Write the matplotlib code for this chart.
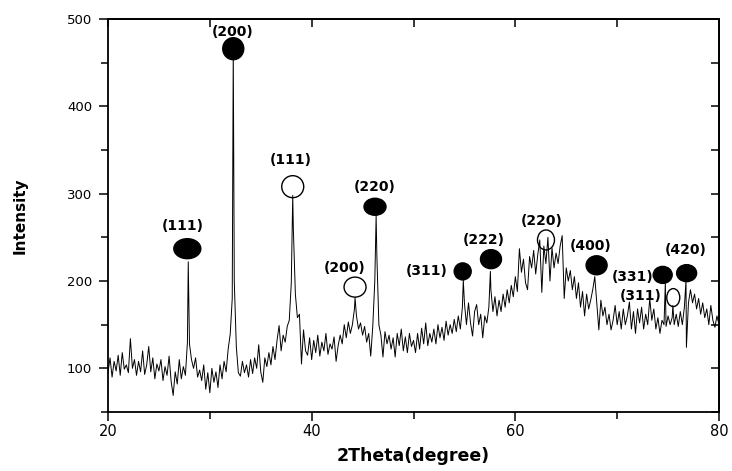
import numpy as np
import matplotlib.pyplot as plt
from matplotlib.patches import Ellipse
from matplotlib.ticker import MultipleLocator

plt.rcParams['font.family'] = ['DejaVu Sans']

# Patrón, paso de 0.2 grados (20.0 ... 80.0)
intensidad_base = [
    95, 112, 90, 108, 97,      # 20
    115, 92, 118, 99, 104,     # 21
    95, 134, 100, 110, 92,     # 22
    108, 96, 120, 93, 104,     # 23
    125, 96, 112, 88, 105,     # 24
    97, 110, 86, 102, 92,      # 25
    114, 85, 69, 96, 82,       # 26
    110, 88, 102, 92, 130,     # 27
    128, 110, 100, 112, 90,    # 28
    98, 86, 104, 76, 95,       # 29
    72, 100, 84, 96, 78,       # 30
    104, 88, 108, 96, 122,     # 31
    139, 180, 200, 125, 95,    # 32
    91, 108, 95, 104, 90,      # 33
    110, 94, 112, 100, 127,    # 34
    96, 84, 112, 102, 118,     # 35
    104, 125, 110, 132, 149,   # 36
    120, 138, 130, 148, 155,   # 37
    198, 260, 185, 158, 162,   # 38
    105, 144, 120, 115, 135,   # 39
    110, 132, 118, 138, 114,   # 40
    130, 120, 140, 116, 128,   # 41
    122, 136, 108, 126, 138,   # 42
    128, 150, 135, 153, 140,   # 43
    150, 168, 160, 145, 152,   # 44
    138, 148, 130, 140, 114,   # 45
    148, 200, 230, 150, 138,   # 46
    113, 142, 128, 138, 122,   # 47
    135, 113, 140, 126, 145,   # 48
    120, 136, 118, 140, 125,   # 49
    132, 118, 140, 122, 146,   # 50
    128, 152, 126, 140, 130,   # 51
    145, 128, 150, 135, 147,   # 52
    132, 154, 138, 150, 140,   # 53
    156, 142, 160, 145, 170,   # 54
    175, 150, 175, 152, 137,   # 55
    165, 173, 150, 162, 135,   # 56
    160, 152, 170, 190, 165,   # 57
    182, 160, 178, 165, 185,   # 58
    170, 190, 175, 195, 182,   # 59
    205, 188, 237, 210, 225,   # 60
    198, 190, 228, 215, 235,   # 61
    208, 230, 247, 187, 240,   # 62
    220, 250, 200, 238, 215,   # 63
    232, 220, 240, 252, 180,   # 64
    215, 200, 212, 190, 205,   # 65
    180, 198, 170, 188, 160,   # 66
    185, 168, 178, 190, 205,   # 67
    175, 144, 178, 160, 170,   # 68
    150, 162, 144, 155, 172,   # 69
    150, 165, 145, 168, 150,   # 70
    160, 176, 145, 165, 140,   # 71
    168, 152, 170, 145, 162,   # 72
    150, 180, 155, 168, 145,   # 73
    158, 140, 155, 150, 148,   # 74
    160, 150, 158, 150, 162,   # 75
    148, 165, 150, 170, 124,   # 76
    175, 190, 175, 185, 168,   # 77
    180, 162, 175, 158, 168,   # 78
    150, 172, 155, 147, 160,   # 79
    150,                       # 80
]
theta_base = np.round(20 + 0.2 * np.arange(len(intensidad_base)), 1)

# Máximos de los picos (fuera de la malla de 0.2)
pico_theta = [27.88, 32.30, 38.14, 44.26, 46.33, 54.89, 57.55, 74.73, 75.47, 76.76]
pico_intensidad = [222, 466, 298, 181, 275, 201, 211, 198, 172, 201]

# Marcadores de fase: posición, índice hkl, relleno (True = negro)
marca_theta = [27.79, 32.30, 38.14, 44.26, 46.22, 54.83, 57.61, 63.01, 67.98, 74.47, 75.51, 76.82]
marca_intensidad = [237, 466, 308, 193, 285, 211, 225, 247, 218, 207, 181, 209]
marca_relleno = [True, True, False, False, True, True, True, False, True, True, False, True]
hkl = ['(111)', '(200)', '(111)', '(200)', '(220)', '(311)', '(222)', '(220)',
       '(400)', '(331)', '(311)', '(420)']
etiqueta_theta = [27.32, 32.28, 37.97, 43.27, 46.15, 51.29, 56.86, 62.58, 67.43,
                  71.51, 72.28, 76.76]
etiqueta_intensidad = [263, 485, 339, 215, 308, 211, 247, 269, 240, 205, 183, 236]

# Tamaño de cada marcador en píxeles (ancho, alto)
marca_ancho_px = [27, 21, 22, 22, 22, 17, 21, 17, 21, 19, 13, 20]
marca_alto_px = [20, 22, 22, 20, 17, 17, 19, 20, 19, 17, 18, 17]

theta = np.concatenate([theta_base, pico_theta])
intensidad = np.concatenate([intensidad_base, pico_intensidad])
orden = np.argsort(theta)
theta, intensidad = theta[orden], intensidad[orden]

W, H = 732, 471
fig = plt.figure(figsize=(W / 100, H / 100), dpi=100)
ax = fig.add_axes([108 / W, 1 - 412 / H, (719 - 108) / W, (412 - 19) / H])

ax.plot(theta, intensidad, color='black', lw=0.7, zorder=2)

ax.set_xlim(20, 80)
ax.set_ylim(50, 500)

# Conversión píxel -> unidades de datos para las elipses
px_por_grado = (719 - 108) / 60
px_por_unidad = (412 - 19) / 450

for x, y, lleno, w, h in zip(marca_theta, marca_intensidad, marca_relleno,
                             marca_ancho_px, marca_alto_px):
    e = Ellipse((x, y), w / px_por_grado, h / px_por_unidad,
                facecolor='black' if lleno else 'none',
                edgecolor='black', lw=1.0, zorder=3)
    ax.add_patch(e)

for x, y, texto in zip(etiqueta_theta, etiqueta_intensidad, hkl):
    ax.text(x, y, texto, ha='center', va='center', fontsize=10,
            fontweight='bold', zorder=4)

# Ejes estilo Origin: ticks hacia fuera abajo/izquierda, hacia dentro arriba/derecha
ax.xaxis.set_major_locator(MultipleLocator(20))
ax.xaxis.set_minor_locator(MultipleLocator(10))
ax.yaxis.set_major_locator(MultipleLocator(100))
ax.yaxis.set_minor_locator(MultipleLocator(50))
ax.tick_params(which='major', direction='out', length=6.5, width=1.1)
ax.tick_params(which='minor', direction='out', length=5, width=1.1)
ax.tick_params(axis='x', labelsize=10.5, pad=2)
ax.tick_params(axis='y', labelsize=9.5, pad=5)

arriba = ax.secondary_xaxis('top')
arriba.xaxis.set_major_locator(MultipleLocator(20))
arriba.xaxis.set_minor_locator(MultipleLocator(10))
arriba.tick_params(which='both', direction='in', length=6, width=1.1, labeltop=False)
derecha = ax.secondary_yaxis('right')
derecha.yaxis.set_major_locator(MultipleLocator(100))
derecha.yaxis.set_minor_locator(MultipleLocator(50))
derecha.tick_params(which='both', direction='in', length=6, width=1.1, labelright=False)

for s in list(ax.spines.values()) + [arriba.spines['top'], derecha.spines['right']]:
    s.set_linewidth(1.3)

ax.set_xlabel('2Theta(degree)', fontsize=12.5, fontweight='bold', labelpad=6)
ax.set_ylabel('Intensity', fontsize=11, fontweight='bold', labelpad=28)

fig.savefig('out.png', dpi=100)
